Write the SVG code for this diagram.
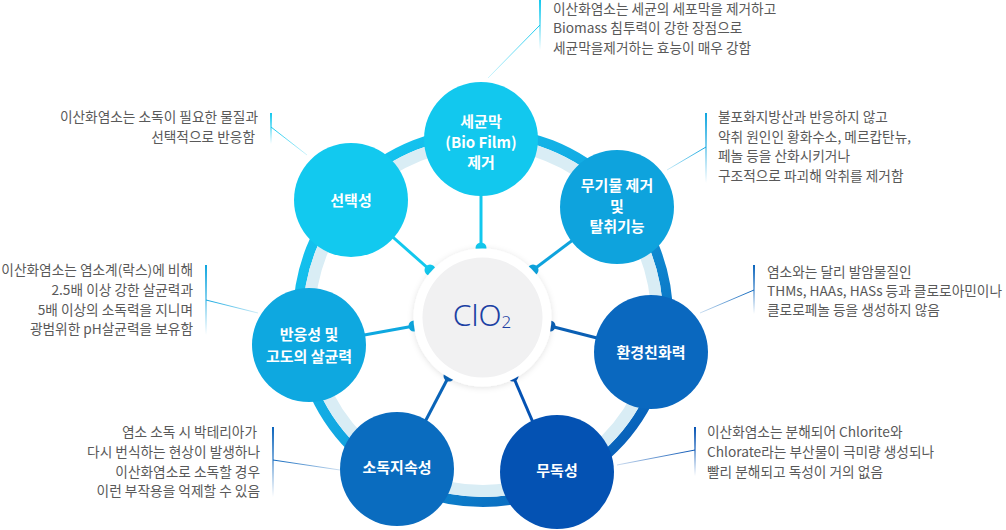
<svg xmlns="http://www.w3.org/2000/svg" width="1006" height="530" viewBox="0 0 1006 530">
<style>
.node-t{font-family:"Noto Sans CJK KR","Noto Sans",sans-serif;font-size:15px;font-weight:700;fill:#fff;text-anchor:middle}
.desc{font-family:"Noto Sans CJK KR","Noto Sans",sans-serif;font-size:13.7px;fill:#595959}
.r{text-anchor:end}
.conn{stroke-width:3;fill:none}
</style>
<defs>
<linearGradient id="ringG" gradientUnits="userSpaceOnUse" x1="320" y1="150" x2="650" y2="490">
<stop offset="0" stop-color="#14cbf2"/>
<stop offset="0.45" stop-color="#12a8e2"/>
<stop offset="1" stop-color="#0650b0"/>
</linearGradient>
<linearGradient id="barCyan" x1="0" y1="0" x2="0" y2="1"><stop offset="0" stop-color="#12c8ee"/><stop offset="1" stop-color="#12c8ee" stop-opacity="0"/></linearGradient>
<linearGradient id="barMid" x1="0" y1="0" x2="0" y2="1"><stop offset="0" stop-color="#0ea5df"/><stop offset="1" stop-color="#0ea5df" stop-opacity="0"/></linearGradient>
<linearGradient id="barBlue" x1="0" y1="0" x2="0" y2="1"><stop offset="0" stop-color="#0a64bc"/><stop offset="1" stop-color="#0a64bc" stop-opacity="0"/></linearGradient>
<linearGradient id="barDark" x1="0" y1="0" x2="0" y2="1"><stop offset="0" stop-color="#0452b3"/><stop offset="1" stop-color="#0452b3" stop-opacity="0"/></linearGradient>
<linearGradient id="d1" gradientUnits="userSpaceOnUse" x1="540" y1="25" x2="488" y2="78"><stop offset="0" stop-color="#12c8ee"/><stop offset="1" stop-color="#12c8ee" stop-opacity="0.2"/></linearGradient>
<linearGradient id="d2" gradientUnits="userSpaceOnUse" x1="271" y1="127" x2="307" y2="155"><stop offset="0" stop-color="#12c8ee"/><stop offset="1" stop-color="#12c8ee" stop-opacity="0.2"/></linearGradient>
<linearGradient id="d3" gradientUnits="userSpaceOnUse" x1="206" y1="300" x2="258" y2="313"><stop offset="0" stop-color="#0ea5df"/><stop offset="1" stop-color="#0ea5df" stop-opacity="0.2"/></linearGradient>
<linearGradient id="d4" gradientUnits="userSpaceOnUse" x1="273" y1="460" x2="340" y2="470"><stop offset="0" stop-color="#0a64bc"/><stop offset="1" stop-color="#0a64bc" stop-opacity="0.2"/></linearGradient>
<linearGradient id="d5" gradientUnits="userSpaceOnUse" x1="695" y1="450" x2="617" y2="465"><stop offset="0" stop-color="#0452b3"/><stop offset="1" stop-color="#0452b3" stop-opacity="0.2"/></linearGradient>
<linearGradient id="d6" gradientUnits="userSpaceOnUse" x1="754" y1="290" x2="700" y2="313"><stop offset="0" stop-color="#0a64bc"/><stop offset="1" stop-color="#0a64bc" stop-opacity="0.2"/></linearGradient>
<linearGradient id="d7" gradientUnits="userSpaceOnUse" x1="706" y1="147" x2="667" y2="170"><stop offset="0" stop-color="#0ea5df"/><stop offset="1" stop-color="#0ea5df" stop-opacity="0.2"/></linearGradient>
<filter id="sh" x="-30%" y="-30%" width="160%" height="160%"><feDropShadow dx="0" dy="1" stdDeviation="3" flood-color="#000" flood-opacity="0.12"/></filter>
</defs>
<rect width="1006" height="530" fill="#fff"/>

<g id="ring">
<circle cx="483" cy="317" r="185" fill="none" stroke="url(#ringG)" stroke-width="10"/>
<circle cx="483" cy="317" r="174" fill="none" stroke="#d9edf5" stroke-width="12"/>
</g>

<g id="callouts">
<rect x="539" y="0" width="2" height="50" fill="url(#barCyan)"/>
<line x1="540" y1="25" x2="488" y2="78" stroke="url(#d1)" stroke-width="1"/>
<rect x="270" y="113" width="2" height="31" fill="url(#barCyan)"/>
<line x1="271" y1="127" x2="307" y2="155" stroke="url(#d2)" stroke-width="1"/>
<rect x="205" y="265" width="2" height="70" fill="url(#barMid)"/>
<line x1="206" y1="300" x2="258" y2="313" stroke="url(#d3)" stroke-width="1"/>
<rect x="272" y="427" width="2" height="70" fill="url(#barBlue)"/>
<line x1="273" y1="460" x2="340" y2="470" stroke="url(#d4)" stroke-width="1"/>
<rect x="694" y="427" width="2" height="49" fill="url(#barDark)"/>
<line x1="695" y1="450" x2="617" y2="465" stroke="url(#d5)" stroke-width="1"/>
<rect x="753" y="265" width="2" height="49" fill="url(#barBlue)"/>
<line x1="754" y1="290" x2="700" y2="313" stroke="url(#d6)" stroke-width="1"/>
<rect x="705" y="113" width="2" height="70" fill="url(#barMid)"/>
<line x1="706" y1="147" x2="667" y2="170" stroke="url(#d7)" stroke-width="1"/>

<text class="desc" x="553" y="14">이산화염소는 세균의 세포막을 제거하고</text>
<text class="desc" x="553" y="33">Biomass 침투력이 강한 장점으로</text>
<text class="desc" x="553" y="52.5">세균막을제거하는 효능이 매우 강함</text>

<text class="desc r" x="258" y="122">이산화염소는 소독이 필요한 물질과</text>
<text class="desc r" x="255" y="142">선택적으로 반응함</text>

<text class="desc r" x="193" y="275">이산화염소는 염소계(락스)에 비해</text>
<text class="desc r" x="193" y="295">2.5배 이상 강한 살균력과</text>
<text class="desc r" x="193" y="315">5배 이상의 소독력을 지니며</text>
<text class="desc r" x="193" y="334">광범위한 pH살균력을 보유함</text>

<text class="desc r" x="257" y="437">염소 소독 시 박테리아가</text>
<text class="desc r" x="260" y="457">다시 번식하는 현상이 발생하나</text>
<text class="desc r" x="260" y="477">이산화염소로 소독할 경우</text>
<text class="desc r" x="260" y="496">이런 부작용을 억제할 수 있음</text>

<text class="desc" x="707" y="437">이산화염소는 분해되어 Chlorite와</text>
<text class="desc" x="707" y="457">Chlorate라는 부산물이 극미량 생성되나</text>
<text class="desc" x="707" y="477">빨리 분해되고 독성이 거의 없음</text>

<text class="desc" x="767" y="277">염소와는 달리 발암물질인</text>
<text class="desc" x="767" y="296">THMs, HAAs, HASs 등과 클로로아민이나</text>
<text class="desc" x="767" y="315">클로로페놀 등을 생성하지 않음</text>

<text class="desc" x="718" y="122">불포화지방산과 반응하지 않고</text>
<text class="desc" x="718" y="141.5">악취 원인인 황화수소, 메르캅탄뉴,</text>
<text class="desc" x="718" y="161">페놀 등을 산화시키거나</text>
<text class="desc" x="718" y="181">구조적으로 파괴해 악취를 제거함</text>
</g>

<g id="connectors">
<line class="conn" x1="481" y1="248" x2="481" y2="150" stroke="#12c8ee"/>
<circle cx="481" cy="248" r="5.5" fill="#12c8ee"/>
<line class="conn" x1="430" y1="270" x2="360" y2="208" stroke="#12c8ee"/>
<circle cx="430" cy="270" r="5.5" fill="#12c8ee"/>
<line class="conn" x1="533" y1="270" x2="610" y2="212" stroke="#0ea3dd"/>
<circle cx="533" cy="270" r="5.5" fill="#0ea3dd"/>
<line class="conn" x1="414" y1="326" x2="320" y2="343" stroke="#0ea8e0"/>
<circle cx="414" cy="326" r="5.5" fill="#0ea8e0"/>
<line class="conn" x1="550" y1="326" x2="640" y2="349" stroke="#0a5fb4"/>
<circle cx="550" cy="326" r="5.5" fill="#0a5fb4"/>
<line class="conn" x1="449" y1="376" x2="405" y2="460" stroke="#0a64b8"/>
<circle cx="449" cy="376" r="5.5" fill="#0a64b8"/>
<line class="conn" x1="513" y1="376" x2="550" y2="462" stroke="#0452b3"/>
<circle cx="513" cy="376" r="5.5" fill="#0452b3"/>
</g>

<g id="center">
<circle cx="482.5" cy="317.5" r="69" fill="#fff" filter="url(#sh)"/>
<circle cx="482.5" cy="317.5" r="60" fill="#f1f1f2"/>
<text x="482" y="326" text-anchor="middle" font-family="'Noto Sans','Noto Sans CJK KR',sans-serif" font-size="30" font-weight="300" fill="#1b40a3">ClO<tspan font-size="17" dy="2">2</tspan></text>
</g>

<g id="node-biofilm">
<circle cx="481" cy="139" r="57" fill="#12c8ee"/>
<text class="node-t" x="481" y="127">세균막</text>
<text class="node-t" x="481" y="148">(Bio Film)</text>
<text class="node-t" x="481" y="168">제거</text>
</g>
<g id="node-select">
<circle cx="351" cy="200" r="57" fill="#12c9ef"/>
<text class="node-t" x="351" y="205.5">선택성</text>
</g>
<g id="node-deodor">
<circle cx="617" cy="207" r="57" fill="#0ea3dd"/>
<text class="node-t" x="617" y="191">무기물 제거</text>
<text class="node-t" x="617" y="212">및</text>
<text class="node-t" x="617" y="232">탈취기능</text>
</g>
<g id="node-eco">
<circle cx="651" cy="352" r="57" fill="#0a68bf"/>
<text class="node-t" x="651" y="358">환경친화력</text>
</g>
<g id="node-nontoxic">
<circle cx="557" cy="472" r="57" fill="#0452b3"/>
<text class="node-t" x="557" y="476">무독성</text>
</g>
<g id="node-persist">
<circle cx="397" cy="469" r="57" fill="#0a6cbf"/>
<text class="node-t" x="397" y="473">소독지속성</text>
</g>
<g id="node-react">
<circle cx="309" cy="345" r="57" fill="#0ea8e0"/>
<text class="node-t" x="309" y="340">반응성 및</text>
<text class="node-t" x="309" y="362">고도의 살균력</text>
</g>
</svg>
